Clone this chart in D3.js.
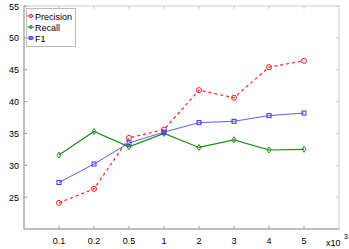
<!DOCTYPE html>
<html>
<head>
<meta charset="utf-8">
<style>
  body { margin: 0; background: #fff; }
  svg { font-family: "Liberation Sans", Arial, sans-serif; }
</style>
</head>
<body>
<svg width="349" height="249"></svg>
<script src="https://cdn.jsdelivr.net/npm/d3@7"></script>
<script>
var categories = ["0.1", "0.2", "0.5", "1", "2", "3", "4", "5"];
var precision = [24.1, 26.3, 34.3, 35.6, 41.8, 40.6, 45.4, 46.4];
var recall = [31.6, 35.3, 32.9, 35.0, 32.8, 34.0, 32.4, 32.5];
var f1 = [27.3, 30.2, 33.5, 35.2, 36.7, 36.9, 37.8, 38.2];
var yTicks = [25, 30, 35, 40, 45, 50, 55];

var svg = d3.select("svg"),
    x0 = 24, x1 = 339, y0 = 6, y1 = 229;

var x = d3.scaleLinear().domain([0, 9]).range([x0, x1]),
    y = d3.scaleLinear().domain([20, 55]).range([y1, y0]);

var axisColor = "#999";

// frame
svg.append("rect")
    .attr("x", x0).attr("y", y0)
    .attr("width", x1 - x0).attr("height", y1 - y0)
    .attr("fill", "none").attr("stroke", "#ccc").attr("stroke-width", 1);
svg.append("line").attr("x1", x0).attr("x2", x0).attr("y1", y0).attr("y2", y1)
    .attr("stroke", axisColor);
svg.append("line").attr("x1", x0).attr("x2", x1).attr("y1", y1).attr("y2", y1)
    .attr("stroke", axisColor);

// ticks
categories.forEach(function(c, i) {
    var px = x(i + 1);
    svg.append("line").attr("x1", px).attr("x2", px).attr("y1", y1).attr("y2", y1 - 3).attr("stroke", axisColor);
    svg.append("line").attr("x1", px).attr("x2", px).attr("y1", y0).attr("y2", y0 + 3).attr("stroke", "#ccc");
    svg.append("text").attr("x", px).attr("y", 244).attr("text-anchor", "middle")
        .attr("font-size", 9).attr("fill", "#000").text(c);
});
yTicks.forEach(function(t) {
    var py = y(t);
    svg.append("line").attr("x1", x0).attr("x2", x0 + 3).attr("y1", py).attr("y2", py).attr("stroke", axisColor);
    svg.append("line").attr("x1", x1).attr("x2", x1 - 3).attr("y1", py).attr("y2", py).attr("stroke", "#ccc");
    svg.append("text").attr("x", 19).attr("y", py + 3.5).attr("text-anchor", "end")
        .attr("font-size", 9).attr("fill", "#000").text(t);
});

svg.append("text").attr("x", 326).attr("y", 246).attr("font-size", 9).attr("fill", "#000").text("x10");
svg.append("text").attr("x", 344).attr("y", 239).attr("font-size", 7).attr("fill", "#000").text("3");

var series = [
    { name: "Precision", values: precision, color: "#ff2020", dash: "3,3", marker: "circle" },
    { name: "Recall", values: recall, color: "#1a8a1a", dash: null, marker: "diamond" },
    { name: "F1", values: f1, color: "#3333ff", dash: null, marker: "square" }
];

var line = d3.line()
    .x(function(d, i) { return x(i + 1); })
    .y(function(d) { return y(d); });

function drawMarker(g, type, px, py, color, sz) {
    sz = sz || 1;
    if (type === "circle") {
        g.append("circle").attr("cx", px).attr("cy", py).attr("r", 2.5 * sz)
            .attr("fill", "none").attr("stroke", color).attr("stroke-width", 1);
    } else if (type === "diamond") {
        g.append("path").attr("d", "M" + px + "," + (py - 3 * sz) + "L" + (px + 2 * sz) + "," + py + "L" + px + "," + (py + 3 * sz) + "L" + (px - 2 * sz) + "," + py + "Z")
            .attr("fill", "none").attr("stroke", color).attr("stroke-width", 1);
    } else {
        g.append("rect").attr("x", px - 2 * sz).attr("y", py - 2 * sz).attr("width", 4 * sz).attr("height", 4 * sz)
            .attr("fill", "none").attr("stroke", color).attr("stroke-width", 1);
    }
}

series.forEach(function(s) {
    var g = svg.append("g");
    g.append("path").attr("d", line(s.values))
        .attr("fill", "none").attr("stroke", s.color)
        .attr("stroke-width", s.marker === "square" ? 0.8 : 1.2)
        .attr("stroke-dasharray", s.dash);
    s.values.forEach(function(v, i) { drawMarker(g, s.marker, x(i + 1), y(v), s.color); });
});

// legend
var lg = svg.append("g");
lg.append("rect").attr("x", 26.5).attr("y", 8.5).attr("width", 49).attr("height", 38)
    .attr("fill", "#fff").attr("stroke", "#bbb");
series.forEach(function(s, i) {
    var py = 16 + i * 11;
    lg.append("line").attr("x1", 27.5).attr("x2", 34).attr("y1", py).attr("y2", py)
        .attr("stroke", s.color).attr("stroke-dasharray", s.dash ? "2,1" : null);
    drawMarker(lg, s.marker, 30.8, py, s.color, 0.7);
    lg.append("text").attr("x", 35).attr("y", py + 3.5).attr("font-size", 9).attr("fill", "#000")
        .text(s.name);
});
</script>
</body>
</html>
